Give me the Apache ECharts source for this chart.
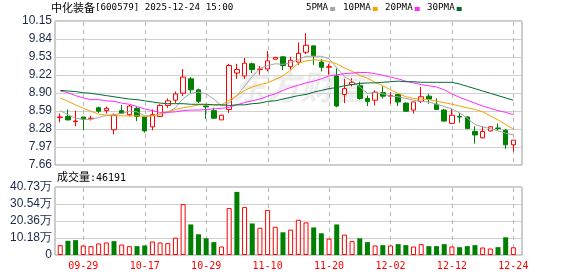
<!DOCTYPE html>
<html><head><meta charset="utf-8">
<script src="https://cdn.jsdelivr.net/npm/echarts@6/dist/echarts.min.js"></script>
<style>html,body{margin:0;padding:0;background:#fff}#c{width:578px;height:276px}</style>
</head><body><div id="c"></div>
<script>
const dates = ['09-24','09-25','09-26','09-29','09-30','10-09','10-10','10-13','10-14','10-15',
 '10-16','10-17','10-20','10-21','10-22','10-23','10-24','10-27','10-28','10-29',
 '10-30','10-31','11-03','11-04','11-05','11-06','11-07','11-10','11-11','11-12',
 '11-13','11-14','11-17','11-18','11-19','11-20','11-21','11-24','11-25','11-26',
 '11-27','11-28','12-01','12-02','12-03','12-04','12-05','12-08','12-09','12-10',
 '12-11','12-12','12-15','12-16','12-17','12-18','12-19','12-22','12-23','12-24'];
const labelDates = ['09-29','10-17','10-29','11-10','11-20','12-02','12-12','12-24'];
const openP = [8.48,8.50,8.41,8.49,8.46,8.65,8.60,8.27,8.60,8.53, 8.64,8.49,8.32,8.50,8.69,8.78,8.90,9.15,8.96,8.68,
 8.60,8.44,8.62,9.25,9.20,9.41,9.31,9.32,9.49,9.53, 9.36,9.44,9.61,9.72,9.44,9.35,9.20,8.88,9.05,9.03,
 8.81,8.78,8.91,8.85,8.88,8.73,8.61,8.76,8.85,8.71, 8.61,8.38,8.50,8.49,8.24,8.13,8.25,8.30,8.26,8.01];
const closeP = [8.49,8.44,8.42,8.45,8.47,8.59,8.64,8.52,8.55,8.68, 8.50,8.25,8.53,8.69,8.77,8.89,9.18,8.96,8.76,8.665,
 8.47,8.52,9.38,9.31,9.42,9.31,9.32,9.46,9.52,9.38, 9.47,9.59,9.73,9.55,9.35,9.36,8.68,8.98,9.09,8.81,
 8.76,8.92,8.85,8.86,8.75,8.59,8.75,8.84,8.80,8.62, 8.42,8.52,8.49,8.29,8.18,8.24,8.32,8.29,8.01,8.09];
const lowP = [8.40,8.43,8.33,8.26,8.43,8.56,8.55,8.19,8.54,8.50, 8.42,8.22,8.26,8.49,8.65,8.73,8.85,8.90,8.73,8.46,
 8.46,8.44,8.56,9.15,9.15,9.25,9.22,9.28,9.48,9.30, 9.31,9.39,9.58,9.39,9.28,9.22,8.66,8.73,9.02,8.79,
 8.68,8.69,8.81,8.72,8.68,8.58,8.55,8.73,8.72,8.61, 8.41,8.38,8.39,8.28,8.03,8.12,8.24,8.26,7.94,7.89];
const highP = [8.55,8.62,8.60,8.49,8.51,8.67,8.67,8.55,8.70,8.70, 8.66,8.49,8.62,8.71,8.81,8.93,9.32,9.18,8.98,8.71,
 8.65,8.53,9.41,9.41,9.51,9.43,9.37,9.63,9.53,9.54, 9.53,9.78,9.94,9.72,9.49,9.41,9.33,9.15,9.16,9.10,
 8.86,8.95,9.02,8.92,8.88,8.74,8.75,9.01,8.89,8.81, 8.63,8.63,8.56,8.50,8.33,8.33,8.33,8.38,8.28,8.09];
const ma5 = [8.60,8.53,8.47,8.45,8.45,8.48,8.52,8.53,8.55,8.59, 8.58,8.51,8.51,8.54,8.57,8.65,8.81,8.90,8.92,8.89,
 8.80,8.68,8.74,8.86,9.02,9.19,9.33,9.38,9.41,9.40, 9.43,9.48,9.54,9.54,9.54,9.50,9.34,9.19,9.11,9.01,
 8.90,8.91,8.89,8.85,8.84,8.81,8.78,8.76,8.75,8.71, 8.67,8.63,8.56,8.47,8.36,8.32,8.29,8.25,8.21,8.18];
const ma10 = [8.82,8.76,8.70,8.64,8.59,8.54,8.52,8.51,8.51,8.51, 8.51,8.50,8.51,8.54,8.58,8.62,8.65,8.67,8.70,8.70,
 8.70,8.70,8.78,8.86,8.95,9.01,9.05,9.08,9.14,9.20, 9.30,9.42,9.46,9.48,9.47,9.45,9.41,9.34,9.28,9.21,
 9.16,9.09,9.03,8.96,8.90,8.84,8.81,8.80,8.79,8.76, 8.74,8.71,8.68,8.65,8.62,8.58,8.51,8.44,8.36,8.28];
const ma20 = [8.94,8.91,8.86,8.82,8.79,8.79,8.77,8.76,8.73,8.71, 8.67,8.63,8.60,8.57,8.57,8.58,8.60,8.61,8.61,8.62,
 8.63,8.64,8.66,8.70,8.74,8.77,8.80,8.85,8.89,8.95, 9.00,9.04,9.08,9.11,9.15,9.20,9.22,9.24,9.25,9.26,
 9.26,9.24,9.21,9.18,9.15,9.11,9.08,9.05,9.03,9.01, 8.96,8.89,8.83,8.78,8.73,8.68,8.64,8.60,8.57,8.53];
const ma30 = [8.95,8.94,8.93,8.91,8.90,8.88,8.86,8.84,8.82,8.80, 8.79,8.77,8.75,8.73,8.72,8.72,8.72,8.71,8.71,8.71,
 8.70,8.70,8.69,8.70,8.70,8.72,8.73,8.76,8.77,8.80, 8.83,8.86,8.88,8.92,8.95,8.98,9.00,9.03,9.05,9.07,
 9.08,9.08,9.09,9.10,9.11,9.10,9.10,9.09,9.09,9.09, 9.09,9.09,9.06,9.02,8.98,8.94,8.90,8.86,8.82,8.78];
// volume in 万 (10k shares)
const volWan = [5.9,8.5,8.9,5.7,5.3,6.9,7.5,8.3,6.3,5.3, 5.3,5.7,8.1,7.5,7.1,10.4,30.5,18.3,12.4,10.0,
 7.7,5.1,28.1,37.8,28.7,18.9,16.3,27.0,16.9,13.6, 15.2,21.1,19.5,16.5,13.0,9.8,18.3,12.2,8.3,10.0,
 7.7,5.7,5.9,5.7,6.5,5.9,5.1,6.5,5.3,5.3, 6.5,5.1,4.7,5.3,5.9,4.5,3.9,4.7,10.6,4.6191];
// 1 = up day (red hollow bar), 0 = down day (green bar)
const volUp = [1,0,0,1,1,1,1,0,1,1, 0,0,1,1,1,1,1,0,0,0, 0,1,1,0,1,0,1,1,1,0,
 1,1,1,0,0,1,0,1,1,0, 0,1,0,1,0,0,1,1,0,0, 0,1,0,0,0,1,1,0,0,1];
const priceTicks = ['10.15','9.84','9.53','9.22','8.90','8.59','8.28','7.97','7.66'];
const volTicks = ['40.73万','30.54万','20.36万','10.18万','0'];
const titleName = '中化装备';
const titleCode = '[600579] 2025-12-24 15:00';
const volTitle = '成交量';
const lastVol = '46191';
const maNames = ['5PMA','10PMA','20PMA','30PMA'];
const maColors = ['#a6a6a6','#f5a300','#ff2bff','#006b35'];

function nearest(labels, v) {
  let best = labels[0], d = Infinity;
  for (const l of labels) { const n = parseFloat(l); if (Math.abs(n - v) < d) { d = Math.abs(n - v); best = l; } }
  return best;
}
const pMax = parseFloat(priceTicks[0]), pMin = parseFloat(priceTicks[priceTicks.length - 1]);
const vMax = parseFloat(volTicks[0]), vMin = 0;

const LEFT = 55, W = 467, DL = 56.4, BAND = 7.68, DW = BAND * dates.length;
const PT = 21, PH = 144, VT = 187, VH = 68;
const labelFont = 'Liberation Sans';
const labelColor = '#1b2a48';
const gridLineColor = '#d0d0d0';
const borderColor = '#999999';
const monoFont = 'DejaVu Sans Mono';
const dashColor = '#b8b8b8';

const chart = echarts.init(document.getElementById('c'));

const graphics = [
  { type: 'text', left: 51, top: 2, z: 10, style: { text: titleName, font: '11px "Noto Sans CJK SC"', fill: '#000' } },
  { type: 'text', left: 95, top: 3.5, z: 10, style: { text: titleCode, font: '9.2px "' + monoFont + '"', fill: '#000' } },
  { type: 'text', left: 57, top: 171.5, z: 10, style: { text: volTitle, font: '11px "Noto Sans CJK SC"', fill: '#000' } },
  { type: 'text', left: 90, top: 173, z: 10, style: { text: ':' + lastVol, font: '10px "' + monoFont + '"', fill: '#000' } },
  { type: 'text', left: 232, top: 70, z: -5, style: { text: '东方财富', font: 'bold italic 34px "Noto Sans CJK SC"', fill: 'rgba(190,190,190,0.28)' } }
];
const legX = [306, 343, 385, 427];
maNames.forEach((n, k) => {
  graphics.push({ type: 'text', left: legX[k], top: 3.5, z: 10, style: { text: n, font: '9.2px "' + monoFont + '"', fill: '#000' } });
  graphics.push({ type: 'rect', shape: { x: legX[k] + n.length * 5.54 + 2, y: 7, width: 5, height: 4 }, z: 10, style: { fill: maColors[k] } });
});

const option = {
  animation: false,
  backgroundColor: '#fff',
  graphic: graphics,
  grid: [
    { left: LEFT, top: PT, width: W, height: PH, show: true, borderColor: borderColor, borderWidth: 1, backgroundColor: 'transparent' },
    { left: LEFT, top: VT, width: W, height: VH, show: true, borderColor: borderColor, borderWidth: 1, backgroundColor: 'transparent' },
    { left: DL, top: PT, width: DW, height: PH },
    { left: DL, top: VT, width: DW, height: VH }
  ],
  xAxis: [
    { gridIndex: 0, type: 'value', min: 0, max: 1, show: false },
    { gridIndex: 1, type: 'value', min: 0, max: 1, show: false },
    { gridIndex: 2, type: 'category', data: dates, boundaryGap: true, show: false },
    { gridIndex: 3, type: 'category', data: dates, boundaryGap: true,
      axisLine: { show: false }, axisTick: { show: false }, splitLine: { show: false },
      axisLabel: { interval: (i, v) => labelDates.includes(v), color: '#ff0000', fontFamily: monoFont, fontSize: 10, margin: 6 } }
  ],
  yAxis: [
    { gridIndex: 0, type: 'value', min: pMin, max: pMax, interval: (pMax - pMin) / (priceTicks.length - 1),
      axisLine: { show: false }, axisTick: { show: false },
      axisLabel: { margin: 3, fontFamily: labelFont, fontSize: 12, color: labelColor, formatter: v => nearest(priceTicks, v) },
      splitLine: { lineStyle: { color: gridLineColor, width: 1 } } },
    { gridIndex: 1, type: 'value', min: vMin, max: vMax, interval: (vMax - vMin) / (volTicks.length - 1),
      axisLine: { show: false }, axisTick: { show: false },
      axisLabel: { margin: 3, fontFamily: labelFont, fontSize: 12, color: labelColor, formatter: v => nearest(volTicks, v) },
      splitLine: { lineStyle: { color: gridLineColor, width: 1 } } },
    { gridIndex: 2, type: 'value', min: pMin, max: pMax, show: false, splitLine: { show: false } },
    { gridIndex: 3, type: 'value', min: vMin, max: vMax, show: false, splitLine: { show: false } }
  ],
  series: [
    { type: 'candlestick', xAxisIndex: 2, yAxisIndex: 2, barWidth: 5, z: 2,
      data: dates.map((_, i) => [openP[i], closeP[i], lowP[i], highP[i]]),
      itemStyle: { color: '#ffffff', color0: '#008000', borderColor: '#ff0000', borderColor0: '#008000', borderWidth: 1 } },
    ...[ma5, ma10, ma20, ma30].map((arr, k) => ({
      type: 'line', name: maNames[k], xAxisIndex: 2, yAxisIndex: 2, data: arr, symbol: 'none', showSymbol: false,
      lineStyle: { color: maColors[k], width: 1 }, z: 3
    })),
    { type: 'bar', xAxisIndex: 3, yAxisIndex: 3, barWidth: 5, z: 2,
      data: volWan.map((v, i) => ({ value: v, itemStyle: volUp[i]
        ? { color: '#ffffff', borderColor: '#ff0000', borderWidth: 1 }
        : { color: '#008000', borderColor: '#008000', borderWidth: 0 } })) }
  ]
};
chart.setOption(option);

// vertical dashed date lines: positions taken from the chart's own category axes
const dateLines = [];
labelDates.forEach(d => {
  const xp = chart.convertToPixel({ xAxisIndex: 2 }, d);
  const yTop = chart.convertToPixel({ yAxisIndex: 2 }, pMax);
  const yBot = chart.convertToPixel({ yAxisIndex: 2 }, pMin);
  const xv = chart.convertToPixel({ xAxisIndex: 3 }, d);
  const vTop = chart.convertToPixel({ yAxisIndex: 3 }, vMax);
  const vBot = chart.convertToPixel({ yAxisIndex: 3 }, vMin);
  if (isFinite(xp)) {
    const x = Math.round(xp) + 0.5;
    dateLines.push({ type: 'line', z: 1, silent: true,
      shape: { x1: x, y1: yTop + 1, x2: x, y2: yBot },
      style: { stroke: dashColor, lineWidth: 1, lineDash: [4, 4] } });
  }
  if (isFinite(xv)) {
    const x = Math.round(xv) + 0.5;
    dateLines.push({ type: 'line', z: 1, silent: true,
      shape: { x1: x, y1: vTop + 1, x2: x, y2: vBot },
      style: { stroke: dashColor, lineWidth: 1, lineDash: [4, 4] } });
  }
});
chart.setOption({ graphic: graphics.concat(dateLines) });
</script></body></html>
